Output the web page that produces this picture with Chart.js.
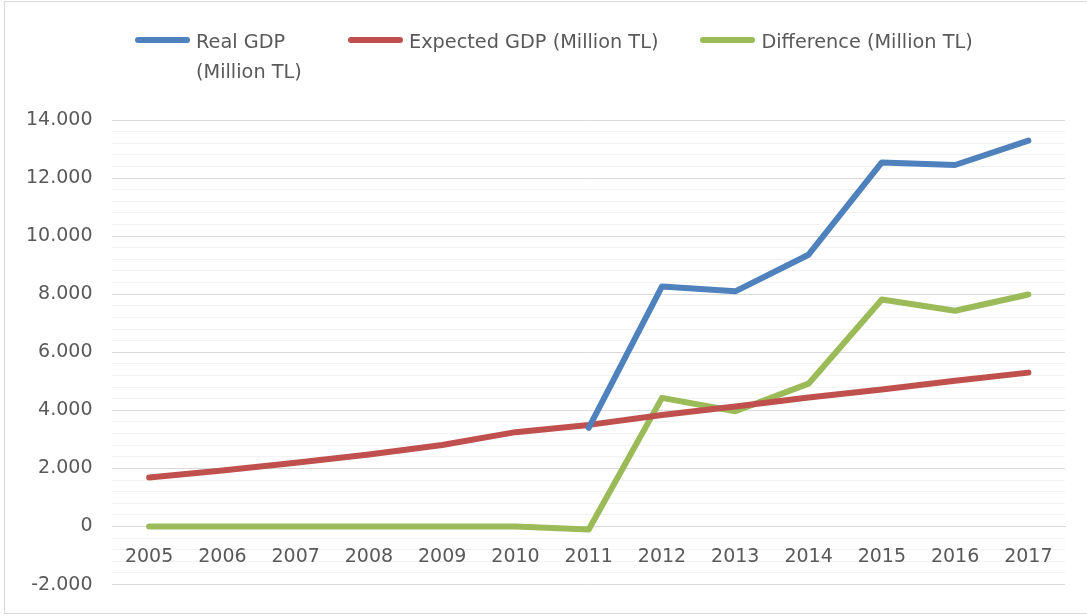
<!DOCTYPE html>
<html>
<head>
<meta charset="utf-8">
<script src="https://cdn.jsdelivr.net/npm/chart.js@4/dist/chart.umd.min.js"></script>
<style>
  html, body { margin: 0; padding: 0; background: #fff; }
  #wrap {
    position: relative;
    width: 1087px;
    height: 616px;
    overflow: hidden;
    font-family: "DejaVu Sans", sans-serif;
  }
  #frame {
    position: absolute;
    left: 4px; top: 1px;
    width: 1090px; height: 611px;
    border: 1px solid #d9d9d9;
    pointer-events: none;
  }
  #legend {
    position: absolute;
    left: 135px;
    top: 27px;
    display: flex;
    align-items: flex-start;
    gap: 42px;
    color: #595959;
    font-size: 19.3px;
    line-height: 30px;
  }
  #legend .item { display: flex; align-items: flex-start; }
  #legend .swatch {
    display: inline-block;
    width: 55px;
    height: 6px;
    border-radius: 3px;
    margin-top: 10px;
    margin-right: 6px;
  }
  #legend .wrapText { width: 110px; }
  canvas { position: absolute; left: 0; top: 0; }
</style>
</head>
<body>
<div id="wrap">
  <canvas id="chart" width="1087" height="616"></canvas>
  <div id="legend"></div>
  <div id="frame"></div>
</div>
<script>
const years = ["2005", "2006", "2007", "2008", "2009", "2010", "2011", "2012", "2013", "2014", "2015", "2016", "2017"];
const realGdp = [null, null, null, null, null, null, 3400, 8270, 8100, 9360, 12540, 12450, 13290];
const expectedGdp = [1690, 1930, 2200, 2480, 2810, 3250, 3500, 3840, 4130, 4440, 4720, 5020, 5300];
const difference = [0, 0, 0, 0, 0, 0, -100, 4430, 3970, 4920, 7820, 7430, 7990];

const seriesNames = ["Real GDP (Million TL)", "Expected GDP (Million TL)", "Difference (Million TL)"];
const seriesColors = ["#4f81bd", "#c0504d", "#9bbb59"];

const FONT = "'DejaVu Sans', sans-serif";
const TEXT = "#595959";

// 14.000 style thousands separator
function fmt(v) {
  const s = Math.abs(v).toString().replace(/\B(?=(\d{3})+(?!\d))/g, ".");
  return (v < 0 ? "-" : "") + s;
}

function line(label, data, color) {
  return {
    label,
    data,
    borderColor: color,
    backgroundColor: color,
    borderWidth: 6,
    borderCapStyle: "round",
    borderJoinStyle: "round",
    pointRadius: 0,
    tension: 0,
    spanGaps: false,
  };
}

const chart = new Chart(document.getElementById("chart"), {
  type: "line",
  data: {
    labels: years,
    datasets: [
      line(seriesNames[0], realGdp, seriesColors[0]),
      line(seriesNames[1], expectedGdp, seriesColors[1]),
      line(seriesNames[2], difference, seriesColors[2]),
    ],
  },
  options: {
    responsive: false,
    animation: false,
    layout: { padding: { top: 120, left: 6, right: 22, bottom: 20 } },
    plugins: { legend: { display: false }, tooltip: { enabled: false } },
    scales: {
      x: {
        position: { y: 0 },
        offset: true,
        grid: { display: false, drawTicks: false },
        border: { display: true, color: "#d9d9d9", width: 1 },
        ticks: {
          color: TEXT,
          font: { family: FONT, size: 19 },
          padding: 19,
          maxRotation: 0,
          autoSkip: false,
        },
      },
      y: {
        min: -2000,
        max: 14000,
        grid: {
          drawTicks: false,
          color: (ctx) => (ctx.tick && ctx.tick.value % 2000 === 0 ? "#d9d9d9" : "#f3f3f3"),
          lineWidth: 1,
        },
        border: { display: false },
        ticks: {
          stepSize: 400,
          autoSkip: false,
          color: TEXT,
          font: { family: FONT, size: 19 },
          padding: 20,
          callback: (v) => (v % 2000 === 0 ? fmt(v) : ""),
        },
      },
    },
  },
});

// HTML legend so the first entry can wrap onto two lines
const legend = document.getElementById("legend");
legend.innerHTML = chart.data.datasets
  .map((ds, i) => {
    const cls = i === 0 ? "wrapText" : "";
    return `<span class="item"><i class="swatch" style="background:${ds.borderColor}"></i><span class="${cls}">${ds.label}</span></span>`;
  })
  .join("");
</script>
</body>
</html>
